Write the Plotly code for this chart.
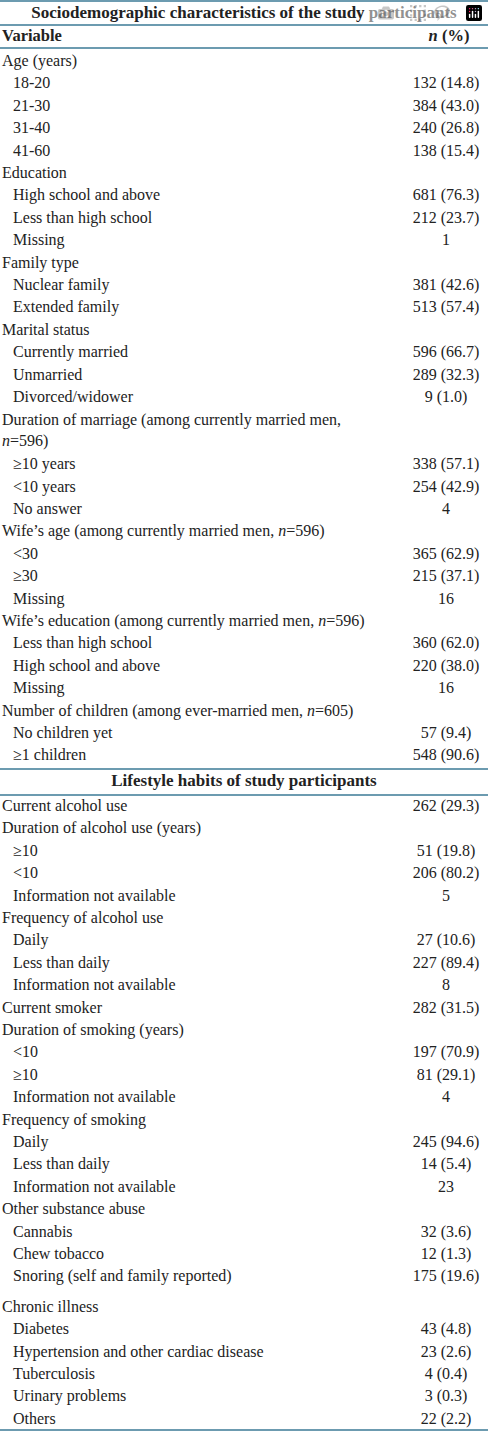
import plotly.graph_objects as go

# table content, section by section
title1 = "Sociodemographic characteristics of the study participants"
title2 = "Lifestyle habits of study participants"
header = ["Variable", "<i>n</i> (%)"]

labels1 = ["Age (years)", "18-20", "21-30", "31-40", "41-60",
           "Education", "High school and above", "Less than high school", "Missing",
           "Family type", "Nuclear family", "Extended family",
           "Marital status", "Currently married", "Unmarried", "Divorced/widower",
           "Duration of marriage (among currently married men,<br><i>n</i>=596)",
           "≥10 years", "<10 years", "No answer",
           "Wife’s age (among currently married men, <i>n</i>=596)", "<30", "≥30", "Missing",
           "Wife’s education (among currently married men, <i>n</i>=596)",
           "Less than high school", "High school and above", "Missing",
           "Number of children (among ever-married men, <i>n</i>=605)",
           "No children yet", "≥1 children"]
levels1 = [0, 1, 1, 1, 1, 0, 1, 1, 1, 0, 1, 1, 0, 1, 1, 1, 0, 1, 1, 1,
           0, 1, 1, 1, 0, 1, 1, 1, 0, 1, 1]
values1 = ["", "132 (14.8)", "384 (43.0)", "240 (26.8)", "138 (15.4)",
           "", "681 (76.3)", "212 (23.7)", "1",
           "", "381 (42.6)", "513 (57.4)",
           "", "596 (66.7)", "289 (32.3)", "9 (1.0)",
           "", "338 (57.1)", "254 (42.9)", "4",
           "", "365 (62.9)", "215 (37.1)", "16",
           "", "360 (62.0)", "220 (38.0)", "16",
           "", "57 (9.4)", "548 (90.6)"]

labels2 = ["Current alcohol use", "Duration of alcohol use (years)", "≥10", "<10",
           "Information not available", "Frequency of alcohol use", "Daily",
           "Less than daily", "Information not available", "Current smoker",
           "Duration of smoking (years)", "<10", "≥10", "Information not available",
           "Frequency of smoking", "Daily", "Less than daily", "Information not available",
           "Other substance abuse", "Cannabis", "Chew tobacco",
           "Snoring (self and family reported)",
           "Chronic illness", "Diabetes", "Hypertension and other cardiac disease",
           "Tuberculosis", "Urinary problems", "Others"]
levels2 = [0, 0, 1, 1, 1, 0, 1, 1, 1, 0, 0, 1, 1, 1, 0, 1, 1, 1, 0, 1, 1, 1,
           0, 1, 1, 1, 1, 1]
values2 = ["262 (29.3)", "", "51 (19.8)", "206 (80.2)", "5", "", "27 (10.6)",
           "227 (89.4)", "8", "282 (31.5)", "", "197 (70.9)", "81 (29.1)", "4",
           "", "245 (94.6)", "14 (5.4)", "23", "", "32 (3.6)", "12 (1.3)",
           "175 (19.6)", "", "43 (4.8)", "23 (2.6)", "4 (0.4)", "3 (0.3)", "22 (2.2)"]

W, H = 488, 1436
pitch = 22.4
font = "Liberation Serif"
fs = 16
txt = "#222222"
rule = "#3b7a96"

# row positions
ys1, row = [], 0
for lab in labels1:
    if "<br>" in lab:
        ys1.append(62 + (row + 0.5) * pitch)
        row += 2
    else:
        ys1.append(62 + row * pitch)
        row += 1
ys2 = []
for i, lab in enumerate(labels2):
    ys2.append(807 + i * pitch + (8 if i >= 22 else 0))

labels = labels1 + labels2
levels = levels1 + levels2
values = values1 + values2
ys = ys1 + ys2
xl = [2 if lv == 0 else 13 for lv in levels]

fig = go.Figure()
fig.add_trace(go.Scatter(x=xl, y=ys, text=labels, mode="text",
                         textposition="middle right",
                         textfont=dict(family=font, size=fs, color=txt),
                         hoverinfo="skip"))
fig.add_trace(go.Scatter(x=[446] * len(values), y=ys, text=values, mode="text",
                         textposition="middle center",
                         textfont=dict(family=font, size=fs, color=txt),
                         hoverinfo="skip"))
fig.add_trace(go.Scatter(x=[2], y=[37], text=["<b>" + header[0] + "</b>"], mode="text",
                         textposition="middle right",
                         textfont=dict(family=font, size=fs + 0.5, color=txt), hoverinfo="skip"))
fig.add_trace(go.Scatter(x=[449], y=[37], text=["<b>" + header[1] + "</b>"], mode="text",
                         textposition="middle center",
                         textfont=dict(family=font, size=fs + 0.5, color=txt), hoverinfo="skip"))
fig.add_trace(go.Scatter(x=[W / 2, W / 2], y=[14, 782],
                         text=["<b>" + title1 + "</b>", "<b>" + title2 + "</b>"],
                         mode="text", textposition="middle center",
                         textfont=dict(family=font, size=17, color=txt), hoverinfo="skip"))

for yy in [1, 25, 48, 769, 795, 1430]:
    fig.add_shape(type="line", x0=0, x1=W, y0=yy, y1=yy,
                  line=dict(color=rule, width=1.5))

fig.update_layout(width=W, height=H, margin=dict(l=0, r=0, t=0, b=0),
                  paper_bgcolor="white", plot_bgcolor="white", showlegend=False,
                  xaxis=dict(range=[0, W], visible=False, fixedrange=True),
                  yaxis=dict(range=[H, 0], visible=False, fixedrange=True))

fig.write_html("out.html",
               post_script="document.body.style.margin='0';document.body.style.overflow='hidden';")
